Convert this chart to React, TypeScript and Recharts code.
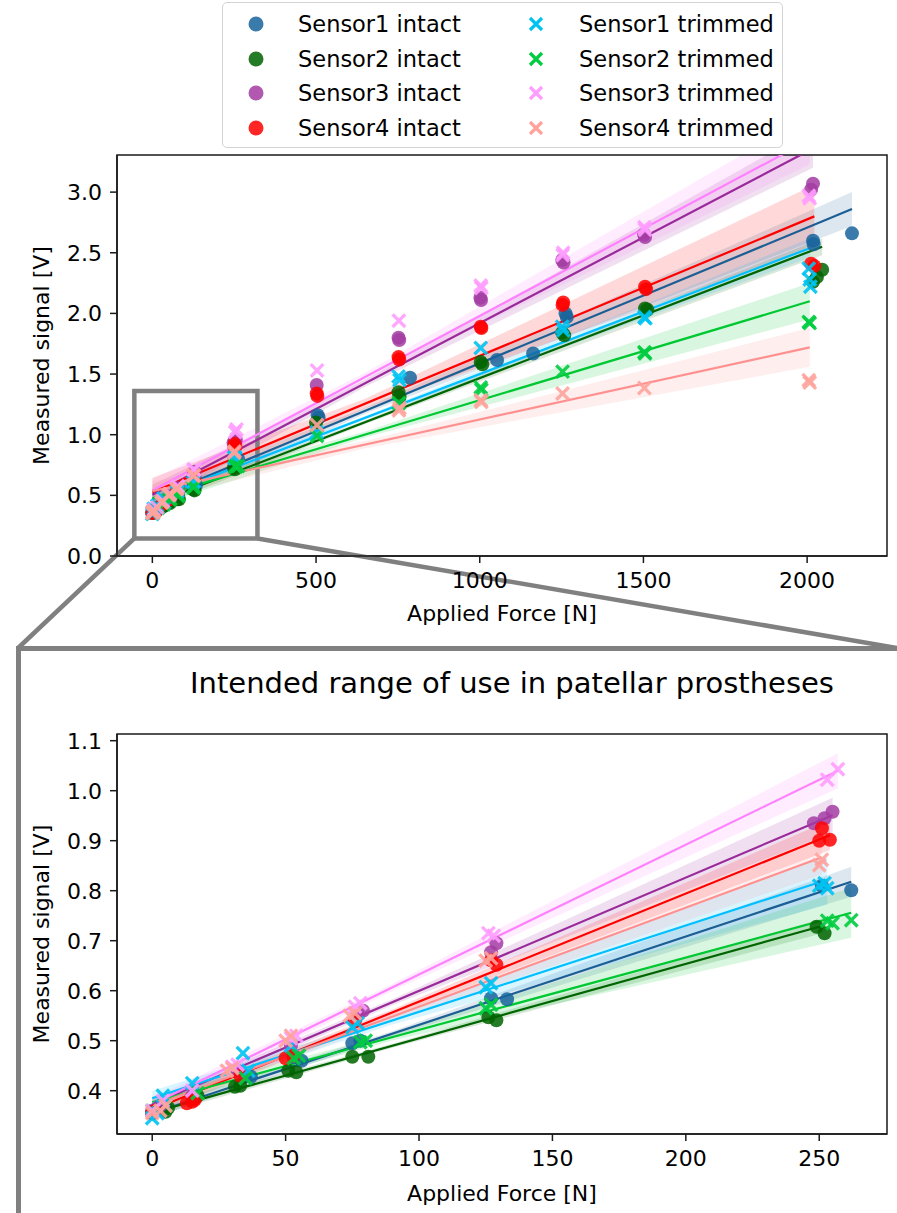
import React from 'react';
import {
  ComposedChart,
  Scatter,
  Line,
  Area,
  XAxis,
  YAxis,
  ReferenceArea,
  ReferenceLine,
  Legend,
} from 'recharts';

type P = [number, number];

// ---------- data (force [N], signal [V]) ----------
const seriesNames = [
  'Sensor1 intact', 'Sensor2 intact', 'Sensor3 intact', 'Sensor4 intact',
  'Sensor1 trimmed', 'Sensor2 trimmed', 'Sensor3 trimmed', 'Sensor4 trimmed',
];

const sensor1Intact: P[] = [
  [0, 0.358], [2, 0.365], [5, 0.37], [16, 0.39], [35, 0.43], [37, 0.428], [53, 0.467], [56, 0.46],
  [75, 0.495], [78, 0.5], [127, 0.585], [133, 0.583], [251, 0.81], [262, 0.801],
  [505, 1.16], [508, 1.14], [787, 1.47], [1053, 1.616], [1163, 1.67], [1262, 2.0], [1266, 1.97],
  [2018, 2.6], [2020, 2.57], [2137, 2.66],
];
const sensor2Intact: P[] = [
  [0, 0.355], [5, 0.358], [6, 0.366], [16, 0.385], [17, 0.39], [31, 0.408], [33, 0.41], [51, 0.44],
  [54, 0.437], [75, 0.468], [81, 0.468], [126, 0.547], [129, 0.541], [249, 0.728], [252, 0.715],
  [500, 1.1], [752, 1.35], [755, 1.31], [1003, 1.6], [1008, 1.58], [1252, 1.84], [1258, 1.82],
  [1505, 2.04], [1512, 2.03], [2018, 2.26], [2030, 2.3], [2046, 2.36],
];
const sensor3Intact: P[] = [
  [0, 0.36], [3, 0.37], [15, 0.39], [32, 0.44], [52, 0.49], [77, 0.552], [79, 0.56], [127, 0.677],
  [129, 0.695], [248, 0.935], [252, 0.945], [255, 0.958],
  [502, 1.41], [752, 1.8], [754, 1.78], [1002, 2.13], [1004, 2.11], [1252, 2.44], [1256, 2.42],
  [1502, 2.65], [1505, 2.63], [2012, 3.02], [2018, 3.07],
];
const sensor4Intact: P[] = [
  [0, 0.355], [1, 0.36], [13, 0.375], [15, 0.378], [16, 0.382], [33, 0.43], [50, 0.465], [53, 0.47],
  [76, 0.54], [127, 0.661], [129, 0.652], [250, 0.9], [251, 0.925], [254, 0.902],
  [502, 1.34], [504, 1.32], [752, 1.64], [754, 1.62], [1003, 1.89], [1005, 1.88], [1253, 2.07],
  [1255, 2.09], [1505, 2.22], [1508, 2.2], [2012, 2.41], [2022, 2.39],
];
const sensor1Trimmed: P[] = [
  [0, 0.345], [2, 0.355], [4, 0.39], [15, 0.415], [34, 0.475], [36, 0.44], [52, 0.49], [75, 0.527],
  [77, 0.535], [125, 0.607], [127, 0.615], [250, 0.81], [252, 0.815], [253, 0.805],
  [502, 1.02], [752, 1.48], [755, 1.45], [1003, 1.715], [1252, 1.89], [1255, 1.86], [1503, 1.97],
  [1506, 1.96], [2005, 2.37], [2008, 2.28], [2010, 2.22],
];
const sensor2Trimmed: P[] = [
  [0, 0.36], [5, 0.37], [17, 0.395], [35, 0.425], [53, 0.465], [55, 0.47], [78, 0.497], [80, 0.5],
  [125, 0.565], [127, 0.572], [253, 0.74], [255, 0.735], [262, 0.741],
  [503, 0.99], [753, 1.26], [1003, 1.39], [1005, 1.37], [1253, 1.52], [1503, 1.68], [1505, 1.67],
  [2005, 1.93], [2008, 1.92],
];
const sensor3Trimmed: P[] = [
  [0, 0.36], [4, 0.38], [15, 0.4], [30, 0.448], [32, 0.452], [52, 0.505], [54, 0.51], [76, 0.568],
  [78, 0.575], [126, 0.715], [128, 0.71], [253, 1.022], [257, 1.043],
  [503, 1.53], [753, 1.94], [1003, 2.23], [1005, 2.21], [1253, 2.48], [1255, 2.5], [1503, 2.71],
  [1505, 2.69], [2005, 2.97], [2008, 2.95],
];
const sensor4Trimmed: P[] = [
  [0, 0.355], [3, 0.36], [5, 0.37], [28, 0.44], [30, 0.445], [50, 0.5], [52, 0.51], [74, 0.55],
  [76, 0.555], [125, 0.66], [127, 0.665], [250, 0.851], [251, 0.862],
  [503, 1.08], [753, 1.2], [755, 1.22], [1003, 1.285], [1005, 1.27], [1253, 1.34], [1503, 1.385],
  [2005, 1.45], [2008, 1.43],
];

const allSeries = [
  sensor1Intact, sensor2Intact, sensor3Intact, sensor4Intact,
  sensor1Trimmed, sensor2Trimmed, sensor3Trimmed, sensor4Trimmed,
];

// ---------- regression lines & confidence bands ----------
// full range panel
const fullFitEndX = [2137, 2046, 2018, 2022, 2010, 2008, 2008, 2008];
const fullFitStartY = [0.47, 0.43, 0.505, 0.525, 0.47, 0.475, 0.54, 0.535];
const fullFitEndY = [2.86, 2.55, 3.36, 2.8, 2.54, 2.1, 3.43, 1.72];
const fullBandStart = [0.07, 0.04, 0.08, 0.12, 0.04, 0.07, 0.09, 0.08];
const fullBandMid = [0.025, 0.015, 0.03, 0.04, 0.015, 0.025, 0.035, 0.03];
const fullBandEnd = [0.14, 0.07, 0.16, 0.26, 0.08, 0.15, 0.2, 0.16];
const fullBandMidX = 650;

// zoomed (0-260 N) panel
const zoomFitEndX = [262, 252, 255, 254, 253, 262, 257, 251];
const zoomFitStartY = [0.355, 0.356, 0.373, 0.362, 0.385, 0.377, 0.373, 0.37];
const zoomFitEndY = [0.818, 0.731, 0.951, 0.911, 0.822, 0.756, 1.04, 0.867];
const zoomBandStart = [0.01, 0.008, 0.01, 0.012, 0.015, 0.012, 0.012, 0.012];
const zoomBandMid = [0.005, 0.004, 0.006, 0.006, 0.008, 0.007, 0.007, 0.008];
const zoomBandEnd = [0.03, 0.015, 0.035, 0.03, 0.05, 0.05, 0.035, 0.035];
const zoomBandMidX = 90;
const zoomMaxForce = 270;

// ---------- axes ----------
const topXTicks = [0, 500, 1000, 1500, 2000];
const topYTicks = [0, 0.5, 1, 1.5, 2, 2.5, 3];
const topXDomain: [number, number] = [-108, 2244];
const topYDomain: [number, number] = [0, 3.306];

const zoomXTicks = [0, 50, 100, 150, 200, 250];
const zoomYTicks = [0.4, 0.5, 0.6, 0.7, 0.8, 0.9, 1.0, 1.1];
const zoomXDomain: [number, number] = [-13.2, 275.4];
const zoomYDomain: [number, number] = [0.3134, 1.1134];

// inset indicator rectangle (in full-panel data coordinates)
const insetBox = { x1: -55, x2: 321, y1: 0.145, y2: 1.36 };
const connectorLeftEnd = { x: -410, y: -0.7585 };
const connectorRightEnd = { x: 2275, y: -0.7585 };

// ---------- styles ----------
const FONT = '"DejaVu Sans", "Liberation Sans", sans-serif';
const AXIS = '#1a1a1a';
const GRAY = '#808080';
const markerColors = ['#17649c', '#006400', '#a33ca3', '#ff0000', '#00c3f2', '#00cc40', '#ff9cff', '#ffa39c'];
const lineColors = ['#1c5e94', '#006400', '#9a2a9a', '#ff0000', '#00bfff', '#00c832', '#ff80ff', '#ff9090'];
const isCircle = [true, true, true, true, false, false, false, false];

const makeShape = (i: number, r: number) => (props: any) => {
  const { cx, cy } = props;
  if (cx == null || cy == null || isNaN(cx) || isNaN(cy)) return <g />;
  if (isCircle[i]) {
    return <circle cx={cx} cy={cy} r={r} fill={markerColors[i]} fillOpacity={0.85} />;
  }
  const s = r * 0.9;
  return (
    <path
      d={`M${cx - s},${cy - s}L${cx + s},${cy + s}M${cx - s},${cy + s}L${cx + s},${cy - s}`}
      stroke={markerColors[i]}
      strokeOpacity={0.9}
      strokeWidth={3.3}
      fill="none"
    />
  );
};

const fitData = (i: number, endX: number[], startY: number[], endY: number[]) => [
  { x: 0, y: startY[i] },
  { x: endX[i], y: endY[i] },
];

const bandData = (
  i: number, endX: number[], startY: number[], endY: number[],
  hw0: number[], hwm: number[], hw1: number[], midX: number,
) => {
  const ym = startY[i] + ((endY[i] - startY[i]) * midX) / endX[i];
  return [
    { x: 0, band: [startY[i] - hw0[i], startY[i] + hw0[i]] },
    { x: midX, band: [ym - hwm[i], ym + hwm[i]] },
    { x: endX[i], band: [endY[i] - hw1[i], endY[i] + hw1[i]] },
  ];
};

const LegendBox = () => (
  <div
    style={{
      position: 'relative', width: 561, height: 146, boxSizing: 'border-box',
      border: '1.5px solid #d4d4d4', borderRadius: 5, background: '#fff',
      fontFamily: FONT, fontSize: 22.5, color: '#000',
    }}
  >
    {seriesNames.map((name, i) => {
      const col = Math.floor(i / 4);
      const row = i % 4;
      const cy = 21 + row * 34.7;
      const mx = col === 0 ? 33 : 313;
      const tx = col === 0 ? 75 : 356;
      return (
        <React.Fragment key={name}>
          <svg width={20} height={20} style={{ position: 'absolute', left: mx - 10, top: cy - 10 }}>
            {isCircle[i] ? (
              <circle cx={10} cy={10} r={7.5} fill={markerColors[i]} fillOpacity={0.85} />
            ) : (
              <path d="M4,4L16,16M4,16L16,4" stroke={markerColors[i]} strokeWidth={3.2} fill="none" />
            )}
          </svg>
          <div style={{ position: 'absolute', left: tx, top: cy - 14, lineHeight: '28px', whiteSpace: 'nowrap' }}>
            {name}
          </div>
        </React.Fragment>
      );
    })}
  </div>
);

const tickStyle = { fontSize: 22, fill: '#000' };
const axisLineStyle = { stroke: AXIS, strokeWidth: 1.5 };

function renderSeries(zoom: boolean) {
  const items: React.ReactNode[] = [];
  allSeries.forEach((pts, i) => {
    const data = pts
      .filter(([x]) => (zoom ? x <= zoomMaxForce : true))
      .map(([x, y]) => ({ x, y }));
    const band = zoom
      ? bandData(i, zoomFitEndX, zoomFitStartY, zoomFitEndY, zoomBandStart, zoomBandMid, zoomBandEnd, zoomBandMidX)
      : bandData(i, fullFitEndX, fullFitStartY, fullFitEndY, fullBandStart, fullBandMid, fullBandEnd, fullBandMidX);
    const fit = zoom
      ? fitData(i, zoomFitEndX, zoomFitStartY, zoomFitEndY)
      : fitData(i, fullFitEndX, fullFitStartY, fullFitEndY);
    items.push(
      <Area
        key={`band-${i}`}
        data={band}
        dataKey="band"
        type="linear"
        stroke="none"
        fill={lineColors[i]}
        fillOpacity={0.15}
        dot={false}
        activeDot={false}
        isAnimationActive={false}
        legendType="none"
      />,
    );
    items.push(
      <Scatter
        key={`pts-${i}`}
        name={seriesNames[i]}
        data={data}
        shape={makeShape(i, 7)}
        isAnimationActive={false}
      />,
    );
    items.push(
      <Line
        key={`fit-${i}`}
        data={fit}
        dataKey="y"
        type="linear"
        stroke={lineColors[i]}
        strokeWidth={2.2}
        dot={false}
        activeDot={false}
        isAnimationActive={false}
        legendType="none"
      />,
    );
  });
  return items;
}

export default function App() {
  return (
    <div
      style={{
        position: 'absolute', left: 0, top: 0, width: 897, height: 1213, overflow: 'hidden',
        background: '#fff', fontFamily: FONT, color: '#000',
      }}
    >
      {/* frame of the zoomed panel */}
      <div
        style={{
          position: 'absolute', left: 16, top: 646, width: 900, height: 600,
          borderTop: `5px solid ${GRAY}`, borderLeft: `5px solid ${GRAY}`,
        }}
      />

      {/* full range panel */}
      <div style={{ position: 'absolute', left: 0, top: 0 }}>
        <ComposedChart width={897} height={660} margin={{ top: 155, right: 10, bottom: 34, left: 0 }}>
          <XAxis
            dataKey="x"
            type="number"
            domain={topXDomain}
            allowDataOverflow
            ticks={topXTicks}
            interval={0}
            height={70}
            tick={tickStyle}
            tickSize={7}
            tickMargin={9}
            tickLine={axisLineStyle}
            axisLine={axisLineStyle}
            label={{ value: 'Applied Force [N]', position: 'insideBottom', offset: 5, fontSize: 22, fill: '#000' }}
          />
          <YAxis
            dataKey="y"
            type="number"
            domain={topYDomain}
            allowDataOverflow
            ticks={topYTicks}
            interval={0}
            width={117}
            tick={tickStyle}
            tickSize={7}
            tickMargin={8}
            tickLine={axisLineStyle}
            axisLine={axisLineStyle}
            tickFormatter={(v: number) => v.toFixed(1)}
            label={{
              value: 'Measured signal [V]', angle: -90, position: 'insideLeft', offset: 41,
              style: { textAnchor: 'middle' }, fontSize: 22, fill: '#000',
            }}
          />
          {renderSeries(false)}
          {/* plot frame (top/right spines) */}
          <ReferenceArea
            x1={topXDomain[0]} x2={topXDomain[1]} y1={topYDomain[0]} y2={topYDomain[1]}
            fill="none" fillOpacity={0} stroke={AXIS} strokeWidth={1.5} ifOverflow="visible"
          />
          <ReferenceArea
            x1={insetBox.x1} x2={insetBox.x2} y1={insetBox.y1} y2={insetBox.y2}
            fill="none" fillOpacity={0} stroke={GRAY} strokeWidth={4.5} ifOverflow="visible"
          />
          <ReferenceLine
            segment={[{ x: insetBox.x1, y: insetBox.y1 }, connectorLeftEnd]}
            stroke={GRAY} strokeWidth={4.5} ifOverflow="visible"
          />
          <ReferenceLine
            segment={[{ x: insetBox.x2, y: insetBox.y1 }, connectorRightEnd]}
            stroke={GRAY} strokeWidth={4.5} ifOverflow="visible"
          />
          <Legend
            layout="horizontal"
            verticalAlign="middle"
            align="center"
            wrapperStyle={{ position: 'absolute', top: 2, left: 222, width: 561, height: 146 }}
            content={() => <LegendBox />}
          />
        </ComposedChart>
      </div>

      {/* title of zoomed panel */}
      <div
        style={{
          position: 'absolute', left: 112, width: 800, top: 664, textAlign: 'center',
          fontSize: 29, lineHeight: '38px', whiteSpace: 'nowrap',
        }}
      >
        Intended range of use in patellar prostheses
      </div>

      {/* zoomed panel */}
      <div style={{ position: 'absolute', left: 0, top: 640 }}>
        <ComposedChart width={897} height={573} margin={{ top: 94, right: 10, bottom: 7, left: 0 }}>
          <XAxis
            dataKey="x"
            type="number"
            domain={zoomXDomain}
            allowDataOverflow
            ticks={zoomXTicks}
            interval={0}
            height={72}
            tick={tickStyle}
            tickSize={7}
            tickMargin={9}
            tickLine={axisLineStyle}
            axisLine={axisLineStyle}
            label={{ value: 'Applied Force [N]', position: 'insideBottom', offset: 5, fontSize: 22, fill: '#000' }}
          />
          <YAxis
            dataKey="y"
            type="number"
            domain={zoomYDomain}
            allowDataOverflow
            ticks={zoomYTicks}
            interval={0}
            width={117}
            tick={tickStyle}
            tickSize={7}
            tickMargin={8}
            tickLine={axisLineStyle}
            axisLine={axisLineStyle}
            tickFormatter={(v: number) => v.toFixed(1)}
            label={{
              value: 'Measured signal [V]', angle: -90, position: 'insideLeft', offset: 41,
              style: { textAnchor: 'middle' }, fontSize: 22, fill: '#000',
            }}
          />
          {renderSeries(true)}
          {/* plot frame (top/right spines) */}
          <ReferenceArea
            x1={zoomXDomain[0]} x2={zoomXDomain[1]} y1={zoomYDomain[0]} y2={zoomYDomain[1]}
            fill="none" fillOpacity={0} stroke={AXIS} strokeWidth={1.5} ifOverflow="visible"
          />
        </ComposedChart>
      </div>
    </div>
  );
}
